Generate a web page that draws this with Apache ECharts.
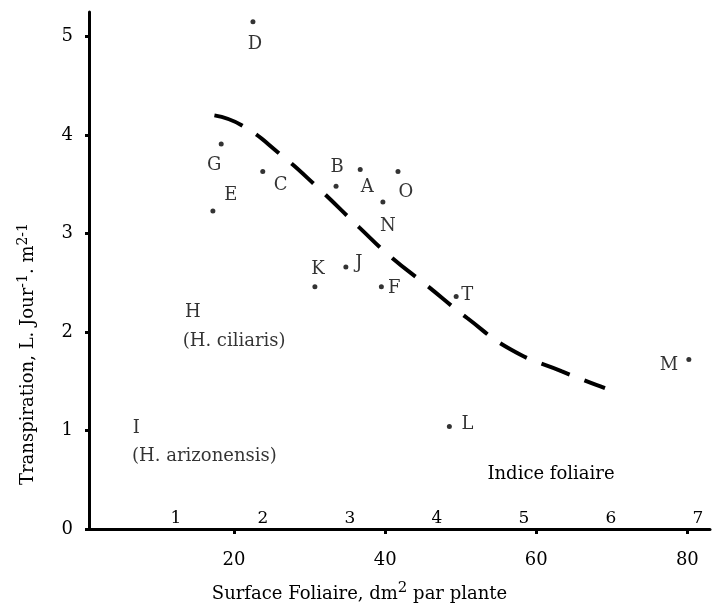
<!DOCTYPE html>
<html>
<head>
<meta charset="utf-8">
<script src="https://cdn.jsdelivr.net/npm/echarts@6/dist/echarts.min.js"></script>
<style>
  html, body { margin: 0; padding: 0; background: #fff; }
  #chart { width: 712px; height: 606px; }
</style>
</head>
<body>
<div id="chart"></div>
<script>
// données
var plantes = ['D', 'G', 'E', 'C', 'B', 'A', 'O', 'N', 'K', 'J', 'F', 'T', 'L', 'M'];
var surface = [22.5, 18.3, 17.2, 23.8, 33.5, 36.7, 41.7, 39.7, 30.7, 34.8, 39.5, 49.4, 48.5, 80.2];
var transpiration = [5.15, 3.91, 3.23, 3.63, 3.48, 3.65, 3.63, 3.32, 2.46, 2.66, 2.46, 2.36, 1.04, 1.72];

// courbe en tirets
var courbeX = [17.4, 21.0, 26.2, 30.9, 36.6, 40.8, 45.4, 50.9, 56.7, 63.4, 69.1];
var courbeY = [4.20, 4.10, 3.80, 3.48, 3.06, 2.76, 2.48, 2.14, 1.82, 1.60, 1.43];

var surfaceTicks = [20, 40, 60, 80];
var indiceTicks = [1, 2, 3, 4, 5, 6, 7];
var transpTicks = [0, 1, 2, 3, 4, 5];

// textes H et I (sans point)
var notes = [
    {text: 'H', x: 13.5, y: 2.2},
    {text: '(H. ciliaris)', x: 13.2, y: 1.91},
    {text: 'I', x: 6.6, y: 1.02},
    {text: '(H. arizonensis)', x: 6.5, y: 0.74}
];

// décalage des lettres par rapport aux points
var decalage = {
    D: [2, 22], G: [-7, 21], E: [18, -16], C: [18, 14], B: [1, -19],
    A: [7, 18], O: [8, 21], N: [5, 24], K: [3, -17], J: [13, -4],
    F: [13, 2], T: [11, -1], L: [18, -2], M: [-20, 6]
};

var police = 'DejaVu Serif';
var noir = '#000';
var myChart = echarts.init(document.getElementById('chart'));

var points = plantes.map(function (p, i) {
    return {
        name: p,
        value: [surface[i], transpiration[i]],
        label: {offset: decalage[p]}
    };
});

var option = {
    backgroundColor: '#fff',
    animation: false,
    textStyle: {fontFamily: police, color: noir},
    grid: {left: 89, right: 2, top: 12, bottom: 77, outerBoundsMode: 'none'},
    xAxis: [
        {
            type: 'value',
            min: 0.8,
            max: 83,
            name: '{n|Surface Foliaire, dm}{s|2}{n| par plante}',
            nameLocation: 'middle',
            nameGap: 52,
            nameTextStyle: {
                padding: [0, 80, 0, 0],
                rich: {
                    n: {fontFamily: police, fontSize: 18, color: noir},
                    s: {fontFamily: police, fontSize: 15, color: noir, padding: [0, 0, 12, 0]}
                }
            },
            axisLine: {lineStyle: {color: noir, width: 3}},
            axisTick: {customValues: surfaceTicks, length: 5, lineStyle: {color: noir, width: 3}},
            axisLabel: {customValues: surfaceTicks, margin: 22, fontSize: 18, color: noir, fontFamily: police},
            splitLine: {show: false}
        },
        {
            type: 'value',
            position: 'bottom',
            min: 0,
            max: 7.14,
            axisLine: {show: false},
            axisTick: {show: false},
            axisLabel: {customValues: indiceTicks, inside: true, margin: 2, fontSize: 17, color: noir, fontFamily: police},
            splitLine: {show: false}
        }
    ],
    yAxis: {
        type: 'value',
        min: 0,
        max: 5.25,
        axisLine: {lineStyle: {color: noir, width: 3}},
        axisTick: {customValues: transpTicks, length: 4, lineStyle: {color: noir, width: 3}},
        axisLabel: {customValues: transpTicks, margin: 16, fontSize: 18, color: noir, fontFamily: police},
        splitLine: {show: false}
    },
    graphic: [
        {
            type: 'text',
            x: 28,
            y: 354,
            rotation: Math.PI / 2,
            style: {
                text: 'Transpiration, L. Jour{s|-1}. m{s|2-1}',
                font: '18px "DejaVu Serif"',
                fill: noir,
                align: 'center',
                verticalAlign: 'middle',
                rich: {
                    s: {fontFamily: police, fontSize: 14, fill: noir, padding: [0, 0, 10, 0]}
                }
            }
        },
        {
            type: 'text',
            x: 551,
            y: 474,
            style: {
                text: 'Indice foliaire',
                font: '18px "DejaVu Serif"',
                fill: noir,
                align: 'center',
                verticalAlign: 'middle'
            }
        }
    ],
    series: [
        {
            type: 'line',
            data: courbeX.map(function (x, i) { return [x, courbeY[i]]; }),
            smooth: true,
            showSymbol: false,
            lineStyle: {color: noir, width: 4, type: [30, 16]}
        },
        {
            type: 'scatter',
            data: points,
            symbolSize: 5,
            itemStyle: {color: noir},
            label: {
                show: true,
                position: 'inside',
                formatter: '{b}',
                fontSize: 18,
                fontFamily: police,
                color: noir
            }
        },
        {
            type: 'scatter',
            data: notes.map(function (n) { return {name: n.text, value: [n.x, n.y]}; }),
            symbolSize: 0,
            label: {
                show: true,
                position: 'inside',
                align: 'left',
                formatter: '{b}',
                fontSize: 18,
                fontFamily: police,
                color: noir
            }
        }
    ]
};
myChart.setOption(option);
</script>
</body>
</html>
